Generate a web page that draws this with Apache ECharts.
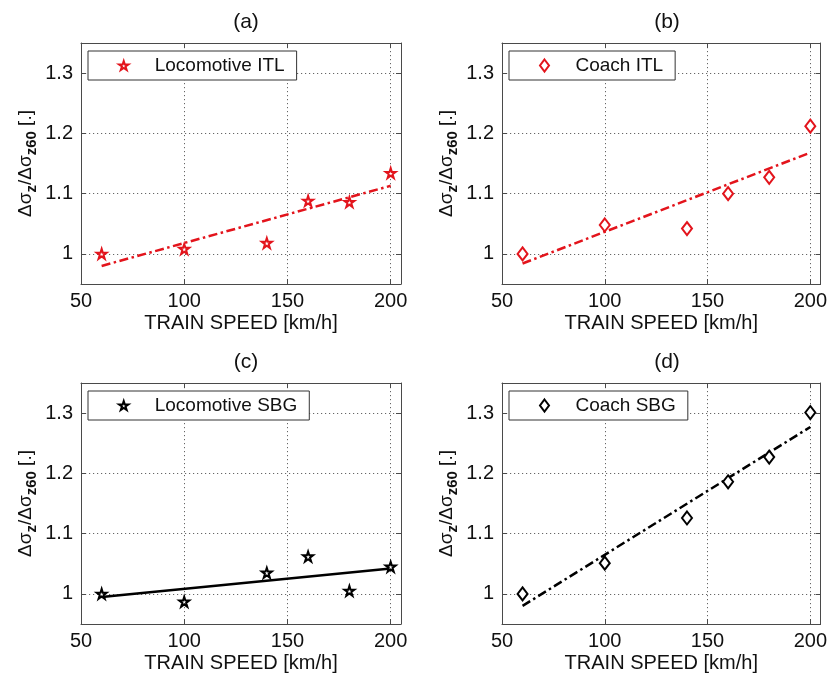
<!DOCTYPE html>
<html><head><meta charset="utf-8">
<script src="https://cdn.jsdelivr.net/npm/echarts@6/dist/echarts.min.js"></script>
<style>html,body{margin:0;padding:0;background:#fff}#c{width:830px;height:680px}</style>
</head><body><div id="c"></div>
<script>
const speeds = [60, 100, 140, 160, 180, 200];
const locoITL = [1.000, 1.008, 1.018, 1.088, 1.086, 1.134];
const coachITL = [1.000, 1.048, 1.042, 1.100, 1.127, 1.212];
const locoSBG = [1.000, 0.987, 1.035, 1.062, 1.005, 1.045];
const coachSBG = [1.000, 1.051, 1.126, 1.186, 1.227, 1.301];
const fitX = [60, 200];
const fitLocoITL = [0.980, 1.113];
const fitCoachITL = [0.984, 1.168];
const fitLocoSBG = [0.995, 1.042];
const fitCoachSBG = [0.980, 1.277];
const xTicks = [50, 100, 150, 200];
const yTicks = [1, 1.1, 1.2, 1.3];
const panelTitles = ['(a)', '(b)', '(c)', '(d)'];
const seriesNames = ['Locomotive ITL', 'Coach ITL', 'Locomotive SBG', 'Coach SBG'];
const xName = 'TRAIN SPEED [km/h]';

const RED = '#e3141c', BLACK = '#000000';
const FONT = 'Liberation Sans, Arial, Helvetica, sans-serif';
const STAR = 'path://M0,-100L22.45,-30.9L95.1,-30.9L36.3,11.8L58.8,80.9L0,38.2L-58.8,80.9L-36.3,11.8L-95.1,-30.9L-22.45,-30.9Z';
const DIAMOND = 'path://M0,-60L45,0L0,60L-45,0Z';
const DASHDOT = [9, 3.5, 2.5, 3.5];

const panels = [
  {vals: locoITL, fit: fitLocoITL, color: RED, sym: STAR, size: [10,10], legH: 9, dash: DASHDOT},
  {vals: coachITL, fit: fitCoachITL, color: RED, sym: DIAMOND, size: [10,13], legH: 12, dash: DASHDOT},
  {vals: locoSBG, fit: fitLocoSBG, color: BLACK, sym: STAR, size: [10,10], legH: 9, dash: 'solid'},
  {vals: coachSBG, fit: fitCoachSBG, color: BLACK, sym: DIAMOND, size: [10,13], legH: 12, dash: DASHDOT}
];
const gridPos = [
  {left: 81, top: 43}, {left: 502, top: 43},
  {left: 81, top: 383}, {left: 502, top: 383}
];
const legendBox = [
  {left: 88, top: 51}, {left: 509, top: 51},
  {left: 88, top: 391}, {left: 509, top: 391}
];
const GW = 320, GH = 241;
const axisColor = '#4a4a4a';

const grid = [], xAxis = [], yAxis = [], series = [], legend = [], title = [];
panels.forEach((p, i) => {
  const g = gridPos[i];
  grid.push({left: g.left, top: g.top, width: GW, height: GH, show: false});
  title.push({text: panelTitles[i], left: g.left + GW/2, top: g.top - 36, textAlign: 'center',
    textStyle: {fontFamily: FONT, fontSize: 21, fontWeight: 'normal', color: '#111'}});
  const common = {type: 'value', gridIndex: i, min: 50, max: 205,
    axisLine: {show: true, onZero: false, lineStyle: {color: axisColor, width: 1}},
    axisTick: {show: true, inside: true, length: 5, customValues: xTicks, lineStyle: {color: axisColor}}};
  xAxis.push(Object.assign({}, common, {position: 'bottom',
    name: xName, nameLocation: 'middle', nameGap: 29,
    nameTextStyle: {fontFamily: FONT, fontSize: 20, color: '#111'},
    axisLabel: {show: true, customValues: xTicks, fontFamily: FONT, fontSize: 20, color: '#111', margin: 7},
    splitLine: {show: true, lineStyle: {color: '#666', type: [1.2, 2.8], width: 1}}}));
  xAxis.push(Object.assign({}, common, {position: 'top', axisLabel: {show: false}, splitLine: {show: false}}));
  const ycommon = {type: 'value', gridIndex: i, min: 0.95, max: 1.35,
    axisLine: {show: true, onZero: false, lineStyle: {color: axisColor, width: 1}},
    axisTick: {show: true, inside: true, length: 5, customValues: yTicks, lineStyle: {color: axisColor}}};
  yAxis.push(Object.assign({}, ycommon, {position: 'left',
    name: '{n|Δσ}{s|z}{n|/Δσ}{s|z60}{n| [.]}', nameLocation: 'middle', nameGap: 42, nameRotate: 90,
    nameTextStyle: {fontFamily: FONT, fontSize: 19, color: '#111',
      rich: {n: {fontFamily: FONT, fontSize: 19, color: '#111', lineHeight: 26, verticalAlign: 'middle'},
             s: {fontFamily: FONT, fontSize: 15, fontWeight: 'bold', color: '#111', lineHeight: 14, verticalAlign: 'bottom'}}},
    axisLabel: {show: true, customValues: yTicks, fontFamily: FONT, fontSize: 20, color: '#111', margin: 8},
    splitLine: {show: true, lineStyle: {color: '#666', type: [1.2, 2.8], width: 1}}}));
  yAxis.push(Object.assign({}, ycommon, {position: 'right', axisLabel: {show: false}, splitLine: {show: false}}));

  series.push({type: 'line', name: seriesNames[i] + ' fit', xAxisIndex: 2*i, yAxisIndex: 2*i,
    data: fitX.map((x, k) => [x, p.fit[k]]), symbol: 'none', silent: true, z: 2,
    lineStyle: {color: p.color, width: 2.5, type: p.dash}});
  series.push({type: 'scatter', name: seriesNames[i], xAxisIndex: 2*i, yAxisIndex: 2*i,
    data: speeds.map((x, k) => [x, p.vals[k]]), symbol: p.sym, symbolSize: p.size, z: 3,
    itemStyle: {color: '#fff', borderColor: p.color, borderWidth: 2, opacity: 1}});
  legend.push({data: [seriesNames[i]], left: legendBox[i].left, top: legendBox[i].top,
    orient: 'horizontal', itemWidth: 14, itemHeight: p.legH, itemGap: 0,
    padding: [5, 12, 5, 30],
    borderColor: '#333', borderWidth: 1, backgroundColor: '#fff', borderRadius: 0,
    selectedMode: false,
    textStyle: {fontFamily: FONT, fontSize: 19, color: '#111', padding: [0, 0, 0, 19]}});
});

const chart = echarts.init(document.getElementById('c'), null, {renderer: 'canvas'});
chart.setOption({animation: false, backgroundColor: '#fff', title, grid, xAxis, yAxis, legend, series});
</script></body></html>
